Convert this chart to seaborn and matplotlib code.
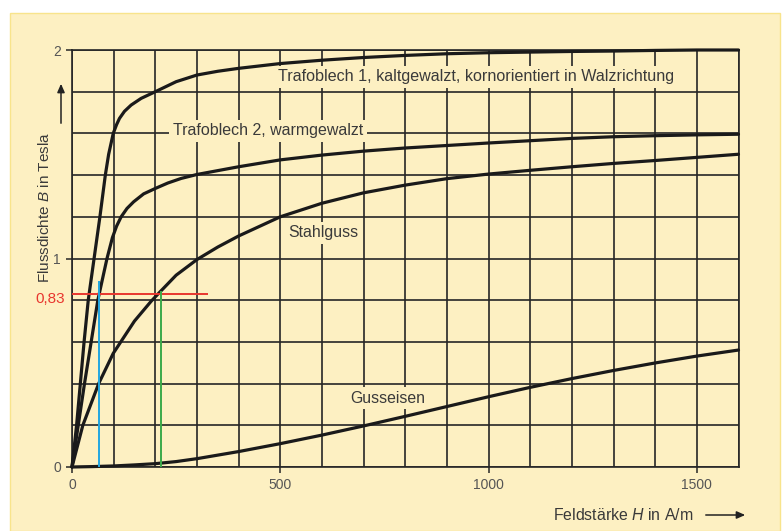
import matplotlib
matplotlib.use("Agg")
import matplotlib.pyplot as plt
from matplotlib.patches import Rectangle, FancyArrowPatch
from matplotlib.ticker import MultipleLocator
import numpy as np
import pandas as pd
import seaborn as sns

# ---- data ----
H_trafo1 = [0, 11, 20, 29, 39, 53, 67, 80, 88, 99, 107, 114, 126, 142, 166, 200, 250, 300, 350,
            400, 500, 600, 700, 800, 900, 1000, 1100, 1200, 1300, 1400, 1500, 1600]
B_trafo1 = [0, 0.2, 0.4, 0.6, 0.8, 1.0, 1.2, 1.4, 1.5, 1.6, 1.642, 1.672, 1.706, 1.736, 1.768,
            1.8, 1.848, 1.88, 1.898, 1.912, 1.935, 1.951, 1.964, 1.974, 1.982, 1.987, 1.99,
            1.993, 1.995, 1.998, 2.0, 2.0]

H_trafo2 = [0, 15, 30, 46, 62, 84, 97, 107, 118, 132, 148, 172, 200, 230, 262, 300, 400, 500,
            600, 700, 800, 900, 1000, 1100, 1200, 1300, 1400, 1500, 1600]
B_trafo2 = [0, 0.2, 0.4, 0.6, 0.8, 1.0, 1.1, 1.155, 1.2, 1.24, 1.272, 1.31, 1.336, 1.362, 1.384,
            1.403, 1.44, 1.473, 1.496, 1.515, 1.530, 1.542, 1.554, 1.565, 1.576, 1.584, 1.589,
            1.593, 1.596]

H_stahl = [0, 26, 64, 99, 150, 190, 208, 250, 300, 350, 400, 500, 600, 700, 800, 900, 1000,
           1100, 1200, 1300, 1400, 1500, 1600]
B_stahl = [0, 0.2, 0.4, 0.545, 0.70, 0.795, 0.833, 0.92, 0.995, 1.055, 1.108, 1.2, 1.265,
           1.315, 1.352, 1.383, 1.405, 1.423, 1.44, 1.456, 1.47, 1.485, 1.5]

H_guss = [0, 50, 100, 150, 200, 250, 300, 400, 500, 600, 700, 800, 900, 1000, 1100, 1200, 1300,
          1400, 1500, 1600]
B_guss = [0, 0.002, 0.005, 0.01, 0.016, 0.026, 0.04, 0.074, 0.112, 0.153, 0.197, 0.243, 0.29,
          0.337, 0.382, 0.424, 0.463, 0.499, 0.532, 0.561]

materials = ["Trafoblech 1", "Trafoblech 2", "Stahlguss", "Gusseisen"]
B_mark = 0.83          # red reading line
H_blue = 64            # Trafoblech 2 at 0.83 T
H_green = 213          # Stahlguss at 0.83 T
H_red_end = 327

x_ticks = [0, 500, 1000, 1500]
x_ticklabels = ["0", "500", "1000", "1500"]
y_ticks = [0, 1, 2]
y_ticklabels = ["0", "1", "2"]

# ---- styling ----
sns.set_theme(style="white")
plt.rcParams["font.family"] = ["Liberation Sans", "DejaVu Sans"]
plt.rcParams["mathtext.fontset"] = "custom"
plt.rcParams["mathtext.rm"] = "Liberation Sans"
plt.rcParams["mathtext.it"] = "Liberation Sans:italic"

YEL = "#FDF0C2"
GRID = "#262626"
TXT = "#3a3a3a"
TICK = "#555555"

W, Hh = 782, 531
fig = plt.figure(figsize=(W / 100, Hh / 100), dpi=100, facecolor="white")
fig.patches.append(Rectangle((10 / W, 0), 770 / W, (Hh - 13) / Hh, transform=fig.transFigure,
                             facecolor=YEL, edgecolor="#F8E48C", lw=1.0, zorder=-10))

ax = fig.add_axes([72 / W, 1 - 467 / Hh, (738.5 - 72) / W, (467 - 50) / Hh])
ax.set_facecolor(YEL)

frames = []
for name, hv, bv in [("Trafoblech 1", H_trafo1, B_trafo1), ("Trafoblech 2", H_trafo2, B_trafo2),
                     ("Stahlguss", H_stahl, B_stahl), ("Gusseisen", H_guss, B_guss)]:
    frames.append(pd.DataFrame({"H": hv, "B": bv, "Werkstoff": name}))
df = pd.concat(frames, ignore_index=True)

sns.lineplot(data=df, x="H", y="B", hue="Werkstoff", hue_order=materials,
             palette=["#1a1a1a"] * 4, sort=False, estimator=None, legend=False,
             lw=2.3, ax=ax, zorder=3, clip_on=False, solid_joinstyle="round")

# reading lines
ax.hlines(B_mark, 0, H_red_end, color="#E8362E", lw=1.4, zorder=4)
ax.vlines(H_blue, 0, 0.89, color="#22A7E0", lw=1.4, zorder=4)
ax.vlines(H_green, 0, 0.845, color="#3BAA4A", lw=1.4, zorder=4)

ax.set_xlim(0, 1600)
ax.set_ylim(0, 2)
ax.set_xticks(x_ticks)
ax.set_xticklabels(x_ticklabels)
ax.set_yticks(y_ticks)
ax.set_yticklabels(y_ticklabels)
ax.xaxis.set_minor_locator(MultipleLocator(100))
ax.yaxis.set_minor_locator(MultipleLocator(0.2))
ax.tick_params(which="major", length=4, width=1.1, color=GRID, labelsize=10,
               labelcolor=TICK, pad=4, bottom=True, left=True)
ax.tick_params(which="minor", length=0)
ax.set_axisbelow(True)
ax.grid(which="both", color=GRID, lw=1.2)
for s in ax.spines.values():
    s.set_color(GRID)
    s.set_linewidth(1.2)
    s.set_zorder(2.5)
ax.set_xlabel("")
ax.set_ylabel("")

# red value label
ax.text(-0.0105, 0.806, "0,83", transform=ax.get_yaxis_transform(), ha="right", va="center",
        color="#E8362E", fontsize=11)

bb = dict(facecolor=YEL, edgecolor="none", pad=2.5)
ax.text(495, 1.872, "Trafoblech 1, kaltgewalzt, kornorientiert in Walzrichtung", ha="left",
        va="center", fontsize=11.6, color=TXT, bbox=bb, zorder=2)
ax.text(242, 1.613, "Trafoblech 2, warmgewalzt", ha="left", va="center", fontsize=11.5,
        color=TXT, bbox=bb, zorder=2)
ax.text(603, 1.124, "Stahlguss", ha="center", va="center", fontsize=11.4, color=TXT,
        bbox=bb, zorder=2)
ax.text(758, 0.329, "Gusseisen", ha="center", va="center", fontsize=11.4, color=TXT,
        bbox=bb, zorder=2)

# axis labels with arrows
fig.text(45 / W, 1 - 207 / Hh, "Flussdichte $B$ in Tesla", rotation=90, ha="center",
         va="center", fontsize=11, color=TXT)
fig.text(693 / W, 1 - 515 / Hh, "Feldstärke $H$ in A/m", ha="right", va="center",
         fontsize=11.4, color=TXT)
fig.add_artist(FancyArrowPatch((61 / W, 1 - 126 / Hh), (61 / W, 1 - 81 / Hh),
               transform=fig.transFigure, arrowstyle="-|>,head_length=5,head_width=2.2",
               color="#222222", lw=1.1, mutation_scale=1))
fig.add_artist(FancyArrowPatch((703 / W, 1 - 515 / Hh), (748 / W, 1 - 515 / Hh),
               transform=fig.transFigure, arrowstyle="-|>,head_length=5,head_width=2.2",
               color="#222222", lw=1.1, mutation_scale=1))

fig.savefig("out.png", dpi=100, facecolor="white")
